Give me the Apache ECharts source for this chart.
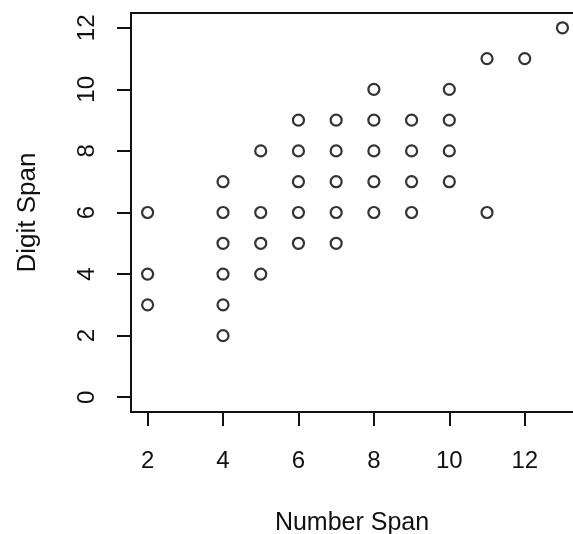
<!DOCTYPE html>
<html>
<head>
<meta charset="utf-8">
<script src="https://cdn.jsdelivr.net/npm/echarts@6/dist/echarts.min.js"></script>
<style>
  html, body { margin: 0; padding: 0; background: #fff; }
  #chart { width: 573px; height: 534px; }
</style>
</head>
<body>
<div id="chart"></div>
<script>
// data (Number Span vs Digit Span)
const numberSpan = [2, 2, 2, 4, 4, 4, 4, 4, 4, 5, 5, 5, 5, 6, 6, 6, 6, 6, 7, 7, 7, 7, 7, 8, 8, 8, 8, 8, 9, 9, 9, 9, 10, 10, 10, 10, 11, 11, 12, 13];
const digitSpan  = [6, 4, 3, 7, 6, 5, 4, 3, 2, 8, 6, 5, 4, 9, 8, 7, 6, 5, 9, 8, 7, 6, 5, 10, 9, 8, 7, 6, 9, 8, 7, 6, 10, 9, 8, 7, 11, 6, 11, 12];
const xTicks = [2, 4, 6, 8, 10, 12];
const yTicks = [0, 2, 4, 6, 8, 10, 12];

const chart = echarts.init(document.getElementById('chart'));
const ink = '#111';
const font = 'Liberation Sans, Arial, sans-serif';

// the plot box runs past the right edge of the picture, so only left/bottom/top edges show
const option = {
  backgroundColor: '#fff',
  animation: false,
  grid: { left: 131, top: 13, width: 442, height: 399, outerBoundsMode: 'none', containLabel: false },
  xAxis: [{
    type: 'value',
    min: 1.56, max: 13.28,
    name: 'Number Span', nameLocation: 'middle', nameGap: 99,
    nameTextStyle: { color: ink, fontSize: 25, fontFamily: font },
    axisLine: { show: true, onZero: false, lineStyle: { color: ink, width: 2 } },
    splitLine: { show: false },
    axisTick: { show: true, customValues: xTicks, length: 14, lineStyle: { color: ink, width: 2 } },
    axisLabel: { customValues: xTicks, margin: 37, color: ink, fontSize: 24, fontFamily: font }
  }, {
    type: 'value', position: 'top',
    min: 1.56, max: 13.28,
    axisLine: { show: true, onZero: false, lineStyle: { color: ink, width: 2 } },
    axisTick: { show: false }, axisLabel: { show: false }, splitLine: { show: false }
  }],
  yAxis: {
    type: 'value',
    min: -0.48, max: 12.48,
    name: 'Digit Span', nameLocation: 'middle', nameGap: 90,
    nameTextStyle: { color: ink, fontSize: 26, fontFamily: font },
    axisLine: { show: true, onZero: false, lineStyle: { color: ink, width: 2 } },
    splitLine: { show: false },
    axisTick: { show: true, customValues: yTicks, length: 14, lineStyle: { color: ink, width: 2 } },
    axisLabel: { customValues: yTicks, rotate: 90, margin: 32, color: ink, fontSize: 24, fontFamily: font }
  },
  series: [{
    type: 'scatter',
    data: numberSpan.map((x, i) => [x, digitSpan[i]]),
    symbol: 'circle',
    symbolSize: 11,
    itemStyle: { color: 'transparent', borderColor: '#000', borderWidth: 2.2 }
  }]
};

chart.setOption(option);
</script>
</body>
</html>
